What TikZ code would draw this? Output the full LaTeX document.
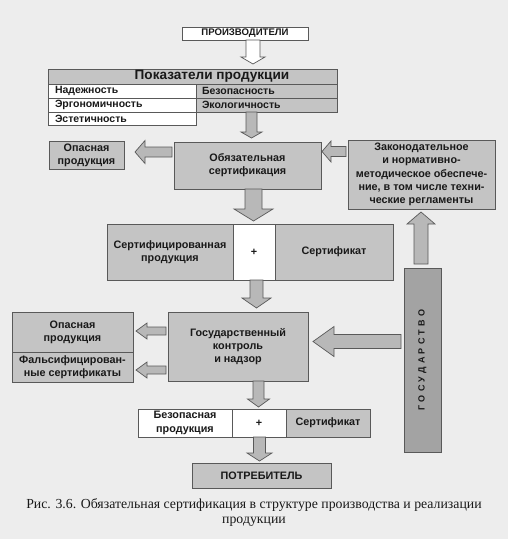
\documentclass[tikz,border=0pt]{standalone}
\usepackage{fontspec}
\setmainfont{Liberation Sans}
\newfontfamily\capfont{Liberation Serif}
\usetikzlibrary{calc}
\definecolor{bgc}{gray}{0.93}
\definecolor{boxc}{gray}{0.77}
\definecolor{gosc}{gray}{0.64}
\definecolor{arrc}{gray}{0.72}
\definecolor{linec}{gray}{0.35}
\definecolor{txtc}{gray}{0.1}
\tikzset{
 box/.style={draw=linec, line width=0.7pt, fill=boxc, inner sep=0pt, outer sep=0pt, align=center, text=txtc, font=\bfseries\fontsize{10.8}{13.3}\selectfont},
 wbox/.style={box, fill=white},
 rowbox/.style={box, text width=#1, align=left, minimum height=14pt, font=\bfseries\fontsize{10.5}{12}\selectfont},
 barr/.style={draw=linec, line width=0.7pt, fill=arrc, line join=miter},
 harr/.style={barr, fill=white},
}
\newcommand\blockarrow[6]{%
 \path #2 coordinate (ba-s);
 \path #3 coordinate (ba-e);
 \pgfpointdiff{\pgfpointanchor{ba-s}{center}}{\pgfpointanchor{ba-e}{center}}%
 \pgfgetlastxy{\bax}{\bay}%
 \pgfmathsetmacro\balen{veclen(\bax,\bay)}%
 \pgfmathsetmacro\baang{atan2(\bay,\bax)}%
 \begin{scope}[shift={(ba-s)}, rotate=\baang, x=1pt, y=1pt]
  \draw[#1] (0,-#4) -- (\balen-#6,-#4) -- (\balen-#6,-#5) -- (\balen,0) -- (\balen-#6,#5) -- (\balen-#6,#4) -- (0,#4) -- cycle;
 \end{scope}}
\begin{document}
\begin{tikzpicture}[x=1pt,y=-1pt]
\useasboundingbox (0,0) rectangle (508,539);
\fill[bgc] (0,0) rectangle (508,539);

% top
\node[wbox, minimum width=126pt, minimum height=13pt, font=\bfseries\fontsize{9.6}{11}\selectfont] (prod) at (245,33.5) {ПРОИЗВОДИТЕЛИ};
\node[box, minimum width=289pt, minimum height=15pt, font=\bfseries\fontsize{13.6}{15}\selectfont] (pok) at (192.5,76.5) {\hspace*{39pt}Показатели продукции};
\node[rowbox=134pt, fill=white, minimum width=148pt] (l1) at (122,91) {Надежность};
\node[rowbox=134pt, fill=white, minimum width=148pt] (l2) at (122,105) {Эргономичность};
\node[rowbox=134pt, fill=white, minimum width=148pt, minimum height=13pt] (l3) at (122,118.5) {Эстетичность};
\node[rowbox=129pt, minimum width=141pt] (r1) at (266.5,91) {Безопасность};
\node[rowbox=129pt, minimum width=141pt] (r2) at (266.5,105) {Экологичность};

% certification level
\node[box, minimum width=75pt, minimum height=28pt] (op1) at (86.5,155) {Опасная\\продукция};
\node[box, minimum width=147pt, minimum height=47pt] (obz) at (247.5,165.5) {Обязательная\\сертификация};
\node[box, minimum width=147pt, minimum height=69pt] (zak) at (421.5,174.5) {Законодательное\\и нормативно-\\методическое обеспече-\\ние, в том числе техни-\\ческие регламенты};

% certified row
\node[box, minimum width=126pt, minimum height=56pt] (sp) at (170,252) {Сертифицированная\\продукция};
\node[wbox, minimum width=42pt, minimum height=56pt] (pl1) at (254,252) {+};
\node[box, minimum width=118pt, minimum height=56pt] (s1) at (334,252) {Сертификат};

% state (rotated: width runs vertically)
\node[box, fill=gosc, minimum width=184pt, minimum height=37pt, rotate=90, font=\bfseries\fontsize{9}{11}\selectfont] (gos) at (422.5,360)
 {Г\kern3.2pt О\kern3.2pt С\kern3.2pt У\kern3.2pt Д\kern3.2pt А\kern3.2pt Р\kern3.2pt С\kern3.2pt Т\kern3.2pt В\kern3.2pt О};

% control level
\node[box, minimum width=121pt, minimum height=40pt] (op2) at (72.5,332) {Опасная\\продукция};
\node[box, minimum width=121pt, minimum height=30pt] (fal) at (72.5,367) {Фальсифицирован-\\ные сертификаты};
\node[box, minimum width=140pt, minimum height=69pt] (gk) at (238,346.5) {Государственный\\контроль\\и надзор};

% safe row
\node[wbox, minimum width=94pt, minimum height=28pt] (bez) at (185,423) {Безопасная\\продукция};
\node[wbox, minimum width=54pt, minimum height=28pt] (pl2) at (259,423) {+};
\node[box, minimum width=84pt, minimum height=28pt] (s2) at (328,423) {Сертификат};

\node[box, minimum width=139pt, minimum height=25pt] (potr) at (261.5,475.5) {ПОТРЕБИТЕЛЬ};

% caption
\node[align=center, text=txtc, font=\capfont\fontsize{13.8}{15}\selectfont] (cap) at (254,512.5)
 {Рис. 3.6. Обязательная сертификация в структуре производства и реализации\\продукции};

% arrows
\blockarrow{harr}{(253,0 |- prod.south)}{($(253,0 |- pok.north)-(0,5)$)}{7}{12}{7}
\blockarrow{barr}{(251.5,0 |- r2.south)}{($(251.5,0 |- obz.north)-(0,4)$)}{5.5}{10.5}{6}
\blockarrow{barr}{($(obz.west |- 0,152)-(2,0)$)}{($(op1.east |- 0,152)+(11,0)$)}{5}{11.5}{10}
\blockarrow{barr}{($(zak.west |- 0,151.5)-(2,0)$)}{($(obz.east |- 0,151.5)+(1,0)$)}{5}{10.5}{9}
\blockarrow{barr}{(253.5,0 |- obz.south)}{($(253.5,0 |- sp.north)-(0,3)$)}{8.5}{19.5}{12}
\blockarrow{barr}{($(421,0 |- gos.east)-(0,4)$)}{($(421,0 |- zak.south)+(0,3)$)}{7}{14}{12}
\blockarrow{barr}{(256.5,0 |- sp.south)}{($(256.5,0 |- gk.north)-(0,4)$)}{6.5}{14.5}{10}
\blockarrow{barr}{($(gk.west |- 0,331)-(2,0)$)}{($(op2.east |- 0,331)+(3,0)$)}{4}{8}{11}
\blockarrow{barr}{($(gk.west |- 0,370)-(2,0)$)}{($(fal.east |- 0,370)+(3,0)$)}{4}{8}{11}
\blockarrow{barr}{($(gos.north |- 0,341.5)-(3,0)$)}{($(gk.east |- 0,341.5)+(5,0)$)}{7}{15}{21}
\blockarrow{barr}{(258.5,0 |- gk.south)}{($(258.5,0 |- bez.north)-(0,2)$)}{5.5}{11}{8}
\blockarrow{barr}{(259.5,0 |- bez.south)}{($(259.5,0 |- potr.north)-(0,2)$)}{6}{12.5}{8}
\end{tikzpicture}
\end{document}
